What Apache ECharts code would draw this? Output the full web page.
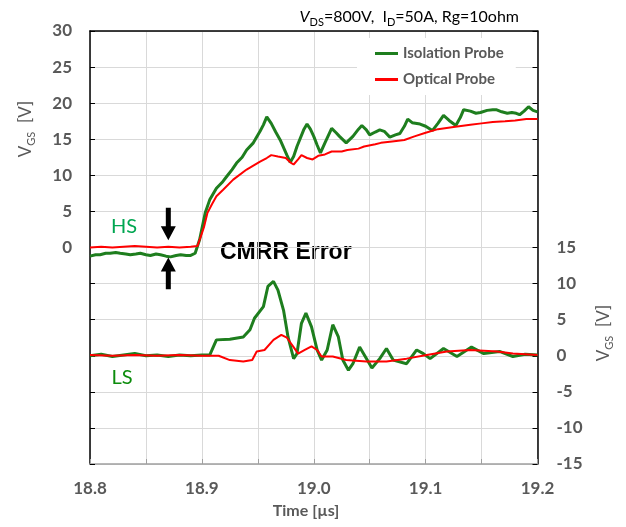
<!DOCTYPE html>
<html>
<head>
<meta charset="utf-8">
<script src="https://cdn.jsdelivr.net/npm/echarts@6/dist/echarts.min.js"></script>
<style>
  html, body { margin: 0; padding: 0; background: #fff; }
  #chart { width: 626px; height: 527px; }
</style>
</head>
<body>
<div id="chart"></div>
<script>
// HS (high side) - Isolation probe, time [us] / Vgs [V]
const hsIsoT = [18.800, 18.805, 18.809, 18.814, 18.818, 18.823, 18.827, 18.832, 18.836, 18.841, 18.845, 18.850, 18.854, 18.859, 18.863, 18.868, 18.872, 18.877, 18.881, 18.886, 18.890, 18.894,
  18.898, 18.903, 18.907, 18.913, 18.918, 18.922, 18.927, 18.931, 18.936, 18.940, 18.946, 18.952, 18.955, 18.958, 18.962, 18.966, 18.970, 18.976, 18.979, 18.982, 18.985, 18.991, 18.994, 18.997,
  19.000, 19.003, 19.006, 19.010, 19.016, 19.020, 19.023, 19.029, 19.035, 19.040, 19.043, 19.047, 19.050, 19.055, 19.059, 19.063, 19.068, 19.073, 19.077, 19.081, 19.084, 19.088, 19.095,
  19.100, 19.106, 19.111, 19.116, 19.121, 19.127, 19.131, 19.134, 19.140, 19.145, 19.149, 19.155, 19.160, 19.163, 19.168, 19.173, 19.177, 19.181, 19.184, 19.188, 19.192, 19.196, 19.200]
const hsIsoV = [-1.2, -1.0, -1.0, -0.8, -0.8, -0.7, -0.8, -0.9, -1.0, -0.9, -0.8, -1.0, -1.1, -0.9, -1.0, -1.2, -1.3, -1.1, -1.0, -1.1, -1.1, -0.8,
  1.1, 4.8, 6.6, 8.2, 9.0, 9.8, 10.8, 11.7, 12.5, 13.5, 14.5, 16.1, 17.0, 18.1, 17.2, 16.0, 14.9, 12.8, 11.8, 12.6, 14.0, 16.3, 17.1, 16.4,
  15.4, 14.2, 13.1, 14.5, 16.5, 15.9, 15.4, 14.5, 15.4, 16.4, 16.9, 16.3, 15.6, 16.0, 16.3, 16.1, 15.3, 15.6, 15.8, 16.8, 17.8, 17.3, 17.1,
  16.8, 16.2, 17.2, 18.3, 17.6, 16.9, 18.0, 19.1, 18.9, 18.6, 18.7, 19.0, 19.1, 19.1, 18.8, 18.6, 18.7, 18.6, 18.4, 18.9, 19.5, 19.0, 18.8]

// HS - Optical probe
const hsOptT = [18.800, 18.810, 18.820, 18.830, 18.840, 18.850, 18.860, 18.870, 18.880, 18.890, 18.896, 18.899, 18.902, 18.905, 18.909, 18.913, 18.919, 18.928, 18.940, 18.952,
  18.958, 18.962, 18.968, 18.975, 18.979, 18.982, 18.986, 18.989, 18.994, 18.999, 19.004, 19.010, 19.016, 19.025, 19.030, 19.040, 19.045, 19.055, 19.060, 19.070, 19.081,
  19.090, 19.100, 19.111, 19.125, 19.140, 19.150, 19.160, 19.171, 19.180, 19.190, 19.200]
const hsOptV = [0.0, 0.1, 0.0, 0.1, 0.2, 0.1, 0.0, 0.1, 0.0, 0.1, 0.2, 1.5, 2.9, 4.8, 6.0, 7.1, 8.0, 9.4, 10.8, 11.9,
  12.4, 12.8, 12.6, 12.4, 11.8, 11.5, 12.2, 12.8, 12.4, 12.2, 12.7, 12.9, 13.3, 13.3, 13.5, 13.7, 14.0, 14.3, 14.5, 14.7, 14.9,
  15.4, 15.9, 16.4, 16.7, 17.0, 17.2, 17.4, 17.5, 17.6, 17.8, 17.8]

// LS (low side) - Isolation probe
const lsIsoT = [18.800, 18.810, 18.820, 18.830, 18.840, 18.850, 18.860, 18.870, 18.880, 18.890, 18.900, 18.907, 18.913, 18.925, 18.937, 18.943, 18.947, 18.955, 18.959, 18.964,
  18.968, 18.973, 18.977, 18.982, 18.985, 18.989, 18.993, 18.998, 19.003, 19.007, 19.012, 19.017, 19.022, 19.026, 19.031, 19.035, 19.041, 19.046, 19.052, 19.059,
  19.065, 19.071, 19.083, 19.092, 19.098, 19.104, 19.116, 19.128, 19.141, 19.152, 19.166, 19.178, 19.189, 19.200]
const lsIsoV = [0.0, 0.2, -0.1, 0.1, 0.3, 0.0, 0.1, -0.1, 0.1, 0.0, 0.1, 0.1, 2.2, 2.3, 2.6, 3.6, 5.2, 6.8, 9.6, 10.3,
  9.1, 6.3, 2.6, -0.4, 0.3, 4.5, 5.9, 4.0, 0.8, -0.6, 0.8, 4.3, 2.6, -0.6, -2.0, -1.1, 1.2, -0.1, -1.7, -0.4,
  1.0, -0.6, -1.1, 0.8, 0.3, -0.4, 1.0, -0.1, 1.2, 0.3, 0.6, -0.1, 0.2, 0.1]

// LS - Optical probe
const lsOptT = [18.800, 18.820, 18.840, 18.860, 18.880, 18.900, 18.915, 18.925, 18.937, 18.945, 18.949, 18.956, 18.964, 18.971, 18.976, 18.982, 18.986, 18.992, 18.998,
  19.003, 19.007, 19.017, 19.029, 19.047, 19.065, 19.083, 19.101, 19.119, 19.140, 19.164, 19.178, 19.200]
const lsOptV = [0.1, 0.0, 0.1, 0.0, 0.1, 0.0, 0.0, -0.6, -0.8, -0.6, 0.6, 0.8, 2.2, 2.9, 2.5, 1.2, 0.3, 0.8, 1.3,
  0.8, -0.1, -0.1, -0.6, -0.8, -0.8, -0.4, 0.1, 0.6, 0.8, 0.6, 0.3, 0.1]

const xTicks = [18.8, 18.9, 19.0, 19.1, 19.2]

const gray = '#595959'
const green = '#1e7e1e'
const red = '#ff0000'
const font = 'Lato, "Open Sans", sans-serif'

function pairs (ts, vs) {
  return ts.map((t, i) => [t, vs[i]])
}

var myChart = echarts.init(document.getElementById('chart'))

const option = {
  animation: false,
  grid: { left: 90, right: 88.5, top: 31, bottom: 63, containLabel: false },
  legend: {
    data: ['Isolation Probe', 'Optical Probe'],
    left: 357,
    top: 38,
    orient: 'vertical',
    backgroundColor: '#fff',
    padding: [8, 12, 8, 18],
    itemWidth: 23,
    itemHeight: 3,
    itemGap: 11,
    icon: 'rect',
    textStyle: { color: gray, fontWeight: 'bold', fontSize: 15, fontFamily: font }
  },
  xAxis: [{
    type: 'value',
    min: 18.8,
    max: 19.2,
    interval: 0.05,
    axisLine: { onZero: false, lineStyle: { color: '#a0a0a0', width: 1.5 } },
    axisTick: { inside: true, length: 5, lineStyle: { color: '#a0a0a0' } },
    splitLine: { lineStyle: { color: '#d9d9d9', width: 1 } },
    axisLabel: {
      margin: 16,
      color: gray,
      fontWeight: 'bold',
      fontSize: 17,
      fontFamily: font,
      formatter: function (v) {
        const hit = xTicks.find(x => Math.abs(x - v) < 1e-6)
        return hit !== undefined ? hit.toFixed(1) : ''
      }
    }
  }, {
    type: 'value',
    position: 'top',
    min: 18.8,
    max: 19.2,
    axisLine: { onZero: false, lineStyle: { color: '#000', width: 1.5 } },
    axisTick: { show: false },
    axisLabel: { show: false },
    splitLine: { show: false }
  }],
  yAxis: [{
    type: 'value',
    min: -30,
    max: 30,
    interval: 5,
    axisLine: { show: true, onZero: false, lineStyle: { color: '#000', width: 1.5 } },
    axisTick: { show: true, inside: true, length: 5, lineStyle: { color: '#000' } },
    splitLine: { lineStyle: { color: '#d9d9d9', width: 1 } },
    axisLabel: {
      margin: 18,
      color: gray,
      fontWeight: 'bold',
      fontSize: 17,
      fontFamily: font,
      formatter: function (v) { return v >= 0 ? String(v) : '' }
    }
  }, {
    type: 'value',
    position: 'right',
    min: -15,
    max: 45,
    interval: 5,
    axisLine: { show: true, onZero: false, lineStyle: { color: '#000', width: 1.5 } },
    axisTick: { show: true, inside: true, length: 5, lineStyle: { color: '#000' } },
    splitLine: { show: false },
    axisLabel: {
      margin: 19,
      color: gray,
      fontWeight: 'bold',
      fontSize: 17,
      fontFamily: font,
      formatter: function (v) { return v <= 15 ? String(v) : '' }
    }
  }],
  series: [{
    name: 'Isolation Probe',
    type: 'line',
    yAxisIndex: 0,
    showSymbol: false,
    color: green,
    lineStyle: { width: 3, color: green },
    data: pairs(hsIsoT, hsIsoV)
  }, {
    name: 'Isolation Probe',
    type: 'line',
    yAxisIndex: 1,
    showSymbol: false,
    color: green,
    lineStyle: { width: 3, color: green },
    data: pairs(lsIsoT, lsIsoV)
  }, {
    name: 'Optical Probe',
    type: 'line',
    yAxisIndex: 0,
    showSymbol: false,
    color: red,
    lineStyle: { width: 2, color: red },
    data: pairs(hsOptT, hsOptV)
  }, {
    name: 'Optical Probe',
    type: 'line',
    yAxisIndex: 1,
    showSymbol: false,
    color: red,
    lineStyle: { width: 2, color: red },
    data: pairs(lsOptT, lsOptV)
  }],
  graphic: [{
    id: 'title',
    type: 'text',
    x: 519,
    y: 15,
    style: {
      text: '{i|V}{s|DS}{t|=800V,  I}{s|D}{t|=50A, Rg=10ohm}',
      align: 'right',
      verticalAlign: 'middle',
      rich: {
        i: { fontSize: 16, fontStyle: 'italic', fill: '#000', fontFamily: font, lineHeight: 20, verticalAlign: 'bottom' },
        s: { fontSize: 11, fill: '#000', fontFamily: font, lineHeight: 20, verticalAlign: 'bottom', padding: [0, 0, -3, 0] },
        t: { fontSize: 16, fill: '#000', fontFamily: font, lineHeight: 20, verticalAlign: 'bottom' }
      }
    }
  }, {
    id: 'yNameL',
    type: 'text',
    x: 24,
    y: 129,
    rotation: Math.PI / 2,
    style: {
      text: '{v|V}{s|GS}{n|  [V]}',
      align: 'center',
      verticalAlign: 'middle',
      rich: {
        v: { fontSize: 17, fill: gray, fontFamily: font, lineHeight: 20, verticalAlign: 'bottom' },
        s: { fontSize: 11, fill: gray, fontFamily: font, lineHeight: 20, verticalAlign: 'bottom', padding: [0, 0, -3, 0] },
        n: { fontSize: 17, fill: gray, fontFamily: font, lineHeight: 20, verticalAlign: 'bottom' }
      }
    }
  }, {
    id: 'yNameR',
    type: 'text',
    x: 602,
    y: 333,
    rotation: Math.PI / 2,
    style: {
      text: '{v|V}{s|GS}{n|  [V]}',
      align: 'center',
      verticalAlign: 'middle',
      rich: {
        v: { fontSize: 17, fill: gray, fontFamily: font, lineHeight: 20, verticalAlign: 'bottom' },
        s: { fontSize: 11, fill: gray, fontFamily: font, lineHeight: 20, verticalAlign: 'bottom', padding: [0, 0, -3, 0] },
        n: { fontSize: 17, fill: gray, fontFamily: font, lineHeight: 20, verticalAlign: 'bottom' }
      }
    }
  }, {
    id: 'xName',
    type: 'text',
    x: 306,
    y: 511,
    style: { text: 'Time [µs]', fill: gray, font: 'bold 16px ' + font, align: 'center', verticalAlign: 'middle' }
  }, {
    id: 'hs',
    type: 'text',
    x: 124,
    y: 227,
    style: { text: 'HS', fill: '#00a651', font: '20px ' + font, align: 'center', verticalAlign: 'middle' }
  }, {
    id: 'ls',
    type: 'text',
    x: 122,
    y: 378,
    style: { text: 'LS', fill: '#0c8c0c', font: '20px ' + font, align: 'center', verticalAlign: 'middle' }
  }, {
    id: 'cmrr',
    type: 'text',
    x: 220,
    y: 253,
    style: { text: 'CMRR Error', fill: '#000', font: 'bold 23px "Liberation Sans", Arial, sans-serif', align: 'left', verticalAlign: 'middle' }
  }]
}

myChart.setOption(option)

// arrows pointing at the two HS traces, anchored in data space
function arrow (id, tail, tip) {
  const a = myChart.convertToPixel({ seriesIndex: 0 }, tail)
  const b = myChart.convertToPixel({ seriesIndex: 0 }, tip)
  const dir = b[1] > a[1] ? 1 : -1
  const x = b[0]
  const headLen = 14
  const neck = b[1] - dir * headLen
  return {
    id: id,
    type: 'polygon',
    shape: {
      points: [[x - 2.5, a[1]], [x + 2.5, a[1]], [x + 2.5, neck], [x + 7.5, neck], [x, b[1]], [x - 7.5, neck], [x - 2.5, neck]]
    },
    style: { fill: '#000' },
    z: 10
  }
}

myChart.setOption({
  graphic: [
    arrow('arrowDown', [18.870, 5.5], [18.870, 1.0]),
    arrow('arrowUp', [18.870, -5.8], [18.870, -1.4])
  ]
})

window.addEventListener('resize', function () {
  myChart.resize()
})
</script>
</body>
</html>
